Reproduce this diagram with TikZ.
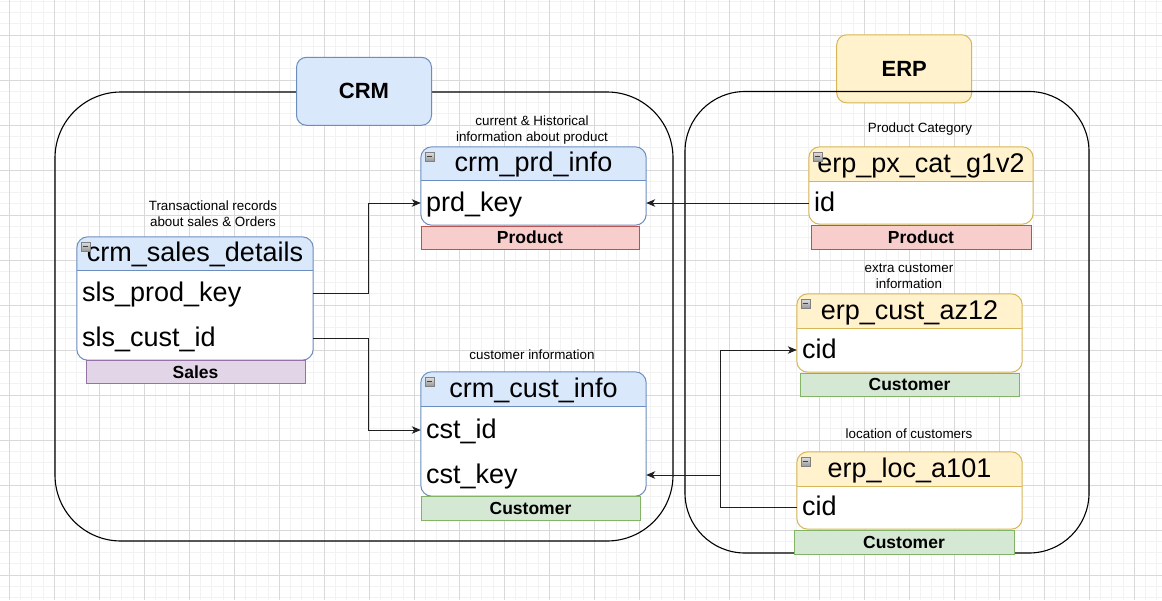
\documentclass[tikz,border=0pt]{standalone}
\usepackage{fontspec}
\setmainfont{Liberation Sans}
\usetikzlibrary{arrows.meta,fit}

\definecolor{crmfill}{HTML}{DAE8FC}
\definecolor{crmline}{HTML}{6C8EBF}
\definecolor{erpfill}{HTML}{FFF2CC}
\definecolor{erpline}{HTML}{D6B656}
\definecolor{prodfill}{HTML}{F8CECC}
\definecolor{prodline}{HTML}{B85450}
\definecolor{custfill}{HTML}{D5E8D4}
\definecolor{custline}{HTML}{82B366}
\definecolor{salesfill}{HTML}{E1D5E7}
\definecolor{salesline}{HTML}{9673A6}
\definecolor{gridminor}{HTML}{F2F2F2}
\definecolor{gridmajor}{HTML}{D9D9D9}

% A table: name, x1, y1 (top), x2, y of header rule, y2 (bottom), header fill, border, title
\newcommand\erdtable[9]{%
  \node[tablebox, fit={(#2,#3) (#4,#6)}] (#1) {};
  \begin{scope}
    \clip (#2,#3) rectangle (#4,#5);
    \fill[fill=#7, rounded corners=11pt] (#2,#3) rectangle (#4,#6);
  \end{scope}
  \draw[draw=#8, line width=1pt, rounded corners=11pt] (#1.north west) rectangle (#1.south east);
  \draw[draw=#8, line width=1pt] (#2,#5) -- (#4,#5);
  \node[tabletitle] (#1-title) at ({(#2+#4)/2},{(#3+#5)/2}) {#9};
  \node[collapse] (#1-icon) at (#2+8.5,#3+9.5) {};
}

\begin{document}
\begin{tikzpicture}[x=1pt,y=-1pt,
  minorline/.style={draw=gridminor, line width=1pt},
  majorline/.style={draw=gridmajor, line width=1pt},
  zone/.style={rectangle, draw=black, line width=1.1pt, inner sep=0pt},
  titlebox/.style={rectangle, rounded corners=10pt, line width=1pt,
    minimum width=135pt, minimum height=68pt, inner sep=0pt,
    font=\bfseries\fontsize{22}{26}\selectfont},
  tablebox/.style={rectangle, inner sep=0pt, fill=white, rounded corners=11pt},
  tabletitle/.style={inner sep=0pt, text height=21.6pt, text depth=5.4pt,
    font=\fontsize{27}{32}\selectfont},
  rowtext/.style={anchor=west, inner sep=2pt, text height=21.6pt, text depth=5.4pt,
    font=\fontsize{27}{32}\selectfont},
  collapse/.style={rectangle, minimum size=9pt, inner sep=0pt, draw=black!50,
    top color=black!12, bottom color=black!40,
    path picture={\draw[black!75, line width=1.3pt]
      ([xshift=1.8pt]path picture bounding box.west) --
      ([xshift=-1.8pt]path picture bounding box.east);}},
  tag/.style={rectangle, line width=1pt, inner sep=0pt,
    font=\bfseries\fontsize{17.5}{21}\selectfont},
  note/.style={align=center, inner sep=0pt, font=\fontsize{13.4}{16}\selectfont},
  link/.style={draw=black!88, line width=1pt,
    -{Stealth[length=9pt,width=7.5pt,inset=2.5pt]}},
  plainlink/.style={draw=black!88, line width=1pt}
]
\useasboundingbox (0,0) rectangle (1162,600);
\fill[white] (0,0) rectangle (1162,600);

% background grid
\foreach \i in {0,...,104} {
  \draw[minorline] ({-1.95+11.25*\i},0) -- ++(0,600);
}
\foreach \j in {0,...,54} {
  \draw[minorline] (0,{1.25+11.25*\j}) -- ++(1162,0);
}
\foreach \i in {0,...,25} {
  \draw[majorline] ({9.3+45*\i},0) -- ++(0,600);
}
\foreach \j in {0,...,13} {
  \draw[majorline] (0,{-10+45*\j}) -- ++(1162,0);
}

% source system zones
\node[titlebox, fill=erpfill, draw=erpline] (erp) at (904.2,68.8) {ERP};
\node[zone, rounded corners=60pt, fit={(685,91.5) (1089,553)}] (erpzone) {};
\node[zone, rounded corners=66pt, fit={(55,92) (673,541)}] (crmzone) {};
\node[titlebox, fill=crmfill, draw=crmline] (crm) at (364,91.3) {CRM};

% CRM tables
\erdtable{prd}{421}{147}{646}{180}{225}{crmfill}{crmline}{crm\_prd\_info}
\node[rowtext] (prd-r1) at (424,203) {prd\_key};
\node[tag, fill=prodfill, draw=prodline, minimum width=218pt, minimum height=23pt]
  (prd-tag) at (530,237.5) {Product};
\node[note] (prd-note) at (532,130) {current \& Historical\\information about product};

\erdtable{sales}{77}{237}{313}{270}{360}{crmfill}{crmline}{crm\_sales\_details}
\node[rowtext] (sales-r1) at (80,293) {sls\_prod\_key};
\node[rowtext] (sales-r2) at (80,338) {sls\_cust\_id};
\node[tag, fill=salesfill, draw=salesline, minimum width=219pt, minimum height=23.5pt]
  (sales-tag) at (195.5,372) {Sales};
\node[note] (sales-note) at (213,214) {Transactional records\\about sales \& Orders};

\erdtable{cst}{421}{372}{646}{406}{496}{crmfill}{crmline}{crm\_cust\_info}
\node[rowtext] (cst-r1) at (424,430) {cst\_id};
\node[rowtext] (cst-r2) at (424,475) {cst\_key};
\node[tag, fill=custfill, draw=custline, minimum width=219pt, minimum height=23.5pt]
  (cst-tag) at (530.5,508.3) {Customer};
\node[note] (cst-note) at (532,355) {customer information};

% ERP tables
\erdtable{cat}{809}{147}{1033}{181}{224}{erpfill}{erpline}{erp\_px\_cat\_g1v2}
\node[rowtext] (cat-r1) at (812,203) {id};
\node[tag, fill=prodfill, draw=prodline, minimum width=220pt, minimum height=24pt]
  (cat-tag) at (921,237) {Product};
\node[note] (cat-note) at (920,129) {Product Category};

\erdtable{az}{797}{294}{1022}{328}{372}{erpfill}{erpline}{erp\_cust\_az12}
\node[rowtext] (az-r1) at (800,350) {cid};
\node[tag, fill=custfill, draw=custline, minimum width=219pt, minimum height=23pt]
  (az-tag) at (909.5,384.5) {Customer};
\node[note] (az-note) at (909,276.5) {extra customer\\information};

\erdtable{loc}{797}{452}{1022}{486}{529}{erpfill}{erpline}{erp\_loc\_a101}
\node[rowtext] (loc-r1) at (800,507) {cid};
\node[tag, fill=custfill, draw=custline, minimum width=220pt, minimum height=24pt]
  (loc-tag) at (904,542) {Customer};
\node[note] (loc-note) at (909,434) {location of customers};

% relationships
\draw[link] (sales-r1.east -| sales.east) -- ++(55,0) |- (prd-r1.west -| prd.west);
\draw[link] (sales-r2.east -| sales.east) -- ++(55,0) |- (cst-r1.west -| cst.west);
\draw[link] (cat-r1.west -| cat.west) -- (prd-r1.east -| prd.east);
\draw[link] (loc-r1.west -| loc.west) -- ++(-76,0) |- (az-r1.west -| az.west);
\draw[link] (loc-r1.west -| loc.west) -- ++(-76,0) |- (cst-r2.east -| cst.east);
\end{tikzpicture}
\end{document}
